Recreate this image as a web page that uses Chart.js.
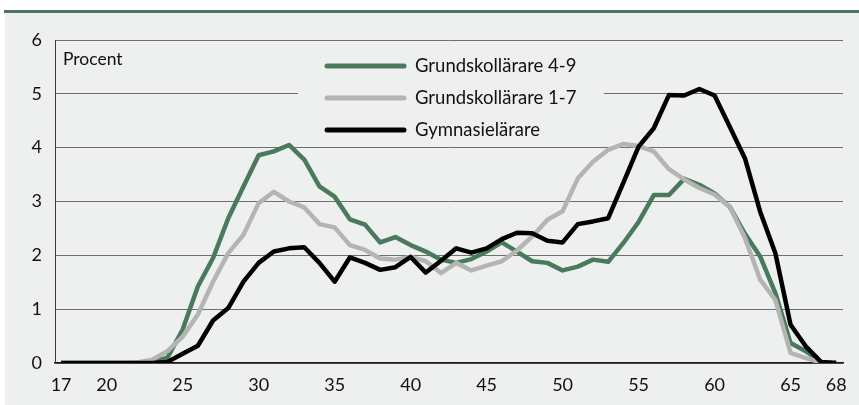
<!DOCTYPE html>
<html>
<head>
<meta charset="utf-8">
<script src="https://cdn.jsdelivr.net/npm/chart.js@4.4.1/dist/chart.umd.min.js"></script>
<style>
  html, body { margin: 0; padding: 0; background: #fff; }
  #wrap { position: relative; width: 859px; height: 405px; overflow: hidden; }
  #topbar { position: absolute; left: 4px; top: 10px; width: 855px; height: 3px; background: #4f7760; }
  #panel { position: absolute; left: 5px; top: 13px; width: 854px; height: 392px; background: #eef0ef; }
  #chart { position: absolute; left: 0; top: 0; }
</style>
</head>
<body>
<div id="wrap">
  <div id="topbar"></div>
  <div id="panel"></div>
  <canvas id="chart" width="859" height="405"></canvas>
</div>
<script>
// Age distribution of teachers, percent per age year (17-68)
const ages = [];
for (let a = 17; a <= 68; a++) ages.push(a);

const xTicks = [17, 20, 25, 30, 35, 40, 45, 50, 55, 60, 65, 68];

const grund49 = [
    0, 0, 0, 0, 0, 0, 0.02, 0.1, 0.62, 1.42,       // 17-26
    1.95, 2.69, 3.28, 3.86, 3.93, 4.05, 3.78, 3.28, 3.09, 2.67, // 27-36
    2.57, 2.24, 2.34, 2.19, 2.07, 1.92, 1.86, 1.93, 2.07, 2.24, // 37-46
    2.07, 1.89, 1.86, 1.72, 1.79, 1.92, 1.88, 2.23, 2.62, 3.12, // 47-56
    3.12, 3.42, 3.31, 3.15, 2.9, 2.4, 1.98, 1.3, 0.37, 0.22,    // 57-66
    0.02, 0                                                     // 67-68
];

const grund17 = [
    0, 0, 0, 0, 0, 0.01, 0.06, 0.22, 0.49, 0.9,
    1.51, 2.04, 2.38, 2.97, 3.18, 3.0, 2.89, 2.58, 2.52, 2.19,
    2.1, 1.94, 1.92, 1.97, 1.89, 1.67, 1.86, 1.72, 1.81, 1.89,
    2.09, 2.35, 2.66, 2.82, 3.43, 3.74, 3.96, 4.07, 4.03, 3.93,
    3.6, 3.41, 3.25, 3.13, 2.9, 2.32, 1.55, 1.17, 0.19, 0.09,
    0.01, 0
];

const gymnasie = [
    0, 0, 0, 0, 0, 0, 0, 0.02, 0.17, 0.32,
    0.79, 1.02, 1.51, 1.86, 2.07, 2.13, 2.15, 1.86, 1.51, 1.96,
    1.86, 1.73, 1.78, 1.97, 1.68, 1.9, 2.13, 2.05, 2.13, 2.3,
    2.42, 2.41, 2.27, 2.24, 2.58, 2.63, 2.69, 3.35, 4.02, 4.36,
    4.98, 4.97, 5.09, 4.97, 4.39, 3.8, 2.81, 2.04, 0.71, 0.31,
    0.02, 0
];

const seriesLabels = ['Grundskollärare 4-9', 'Grundskollärare 1-7', 'Gymnasielärare'];
const seriesColors = ['#4a7a5c', '#b4b4b4', '#000000'];

const FONT = 'Lato, "Open Sans", sans-serif';
const BG = '#eef0ef';

function toPoints(values) {
    return values.map((v, i) => ({ x: ages[i], y: v }));
}

// Legend box and "Procent" label drawn over the grid, under the lines
const overlayPlugin = {
    id: 'overlay',
    beforeDatasetsDraw(chart) {
        const ctx = chart.ctx;
        ctx.save();
        ctx.fillStyle = BG;
        ctx.fillRect(298, 44, 306, 99);

        ctx.fillStyle = '#111';
        ctx.font = '17.5px ' + FONT;
        ctx.textBaseline = 'middle';
        ctx.textAlign = 'left';
        ctx.fillText('Procent', 63, 59);

        seriesLabels.forEach((label, i) => {
            const y = 66 + i * 32;
            ctx.strokeStyle = seriesColors[i];
            ctx.lineWidth = 5;
            ctx.lineCap = 'round';
            ctx.beginPath();
            ctx.moveTo(327, y);
            ctx.lineTo(404, y);
            ctx.stroke();
            ctx.fillStyle = '#111';
            ctx.font = '18.5px ' + FONT;
            ctx.fillText(label, 415, y);
        });
        ctx.restore();
    }
};

const datasets = [grund49, grund17, gymnasie].map((values, i) => ({
    label: seriesLabels[i],
    data: toPoints(values),
    borderColor: seriesColors[i],
    borderWidth: 4.5,
    pointRadius: 0,
    tension: 0,
    borderJoinStyle: 'round',
    order: 2 - i
}));

new Chart(document.getElementById('chart'), {
    type: 'line',
    data: { datasets: datasets },
    options: {
        responsive: false,
        animation: false,
        events: [],
        layout: { padding: { top: 40, right: 16, left: 0, bottom: 0 } },
        plugins: {
            legend: { display: false },
            tooltip: { enabled: false }
        },
        scales: {
            x: {
                type: 'linear',
                min: 16.6,
                max: 68.45,
                afterBuildTicks: (scale) => {
                    scale.ticks = xTicks.map(v => ({ value: v }));
                },
                afterFit: (scale) => { scale.height = 42; },
                grid: { display: false, drawTicks: false },
                border: { color: '#1a1a1a', width: 1.5 },
                ticks: {
                    autoSkip: false,
                    maxRotation: 0,
                    padding: 11,
                    color: '#111',
                    font: { family: FONT, size: 18 }
                }
            },
            y: {
                min: 0,
                max: 6,
                afterFit: (scale) => { scale.width = 55; },
                grid: { color: '#6e6e6e', lineWidth: 1, drawTicks: false },
                border: { color: '#3a3a3a', width: 1 },
                ticks: {
                    stepSize: 1,
                    padding: 13,
                    color: '#111',
                    font: { family: FONT, size: 18 }
                }
            }
        }
    },
    plugins: [overlayPlugin]
});
</script>
</body>
</html>
